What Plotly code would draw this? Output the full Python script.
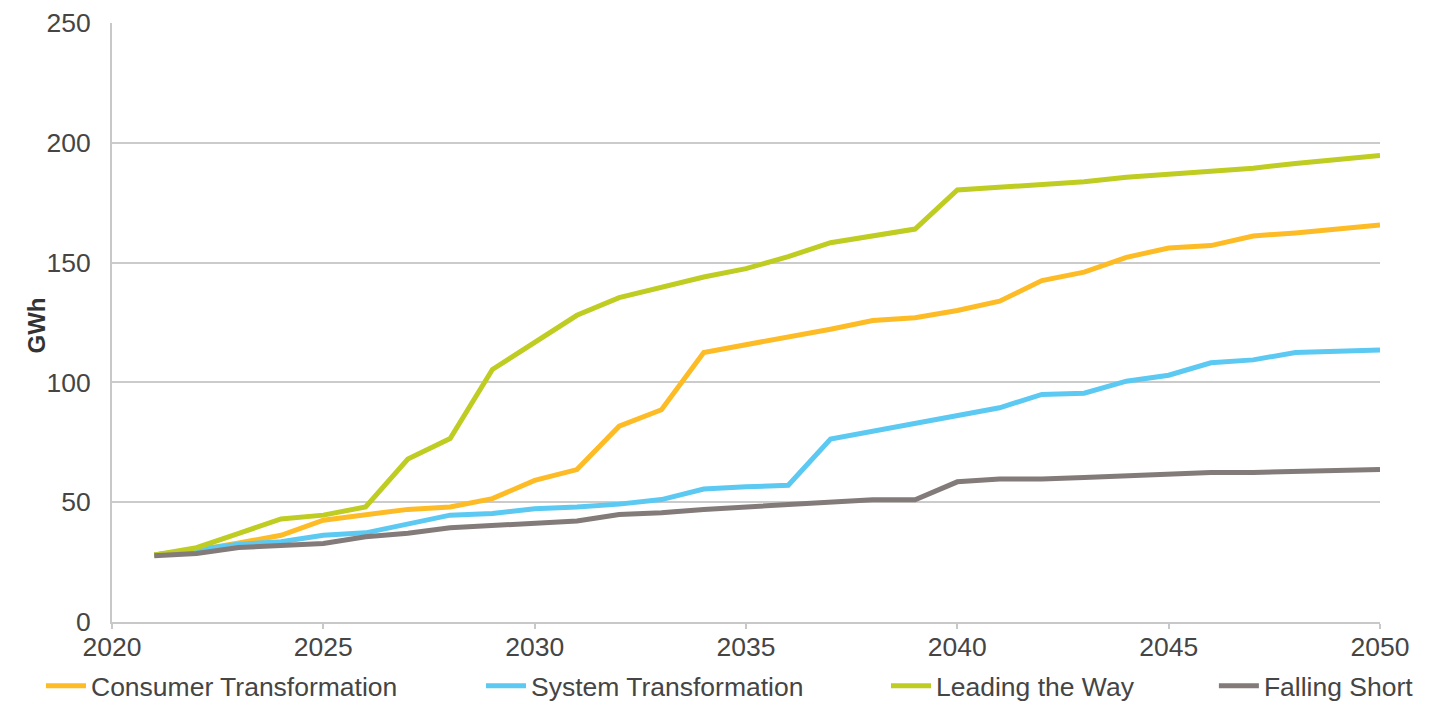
import plotly.graph_objects as go

years = list(range(2021, 2051))

consumer_transformation = [28, 30, 33, 36.2, 42.5, 44.6, 47, 48, 51.5, 59.1,
                           63.6, 81.7, 88.6, 112.5, 115.7, 118.6, 122.2, 125.8, 127, 130,
                           133.9, 142.5, 146, 152.2, 156.1, 157.1, 161.1, 162.4, 164, 165.7]
system_transformation = [28, 30, 32.5, 33.5, 36.2, 37.2, 41.1, 44.6, 45.3, 47.3,
                         48, 49.2, 51.1, 55.5, 56.4, 57.1, 76.4, 79.7, 82.8, 85.8,
                         89.4, 95, 95.5, 100.5, 103, 108.2, 109.4, 112.5, 113, 113.5]
leading_the_way = [28, 31, 37, 43, 44.6, 48, 68, 76.6, 105.4, 117,
                   128, 135.4, 139.6, 144, 147.5, 152.5, 158.3, 161, 164, 180.3,
                   181.4, 182.8, 183.75, 185.6, 186.7, 188.3, 189.4, 191.4, 193, 194.7]
falling_short = [27.6, 28.6, 31.1, 31.8, 32.8, 35.6, 37, 39.3, 40.4, 41.4,
                 42.2, 44.9, 45.6, 47, 48, 49.2, 50.3, 51, 51, 58.5,
                 59.7, 59.7, 60.3, 61.1, 61.7, 62.4, 62.4, 62.9, 63.3, 63.6]

series_names = ["Consumer Transformation", "System Transformation", "Leading the Way", "Falling Short"]
series_values = [consumer_transformation, system_transformation, leading_the_way, falling_short]
colors = ["#FDBC26", "#5BC9F2", "#BFCC22", "#827B7A"]
legend_ids = ["legend", "legend2", "legend3", "legend4"]
legend_x = [-0.056, 0.291, 0.6104, 0.869]

FONT = "Liberation Sans, Arial, Helvetica, sans-serif"
TEXT_COLOR = "#454545"
FS = 26.5

fig = go.Figure()
for name, vals, col, lg in zip(series_names, series_values, colors, legend_ids):
    fig.add_trace(go.Scatter(
        x=years, y=vals, name=name, mode="lines",
        line=dict(color=col, width=5),
        legend=lg,
    ))

legend_common = dict(
    orientation="h", yanchor="middle", y=-0.107, xanchor="left",
    font=dict(family=FONT, size=FS, color=TEXT_COLOR),
    bgcolor="rgba(0,0,0,0)", itemwidth=40, tracegroupgap=0,
)

fig.update_layout(
    width=1439, height=698,
    margin=dict(l=104, r=67, t=15, b=84, autoexpand=False),
    paper_bgcolor="white", plot_bgcolor="white",
    font=dict(family=FONT, size=FS, color=TEXT_COLOR),
    showlegend=True,
    xaxis=dict(
        range=[2020, 2050], tickmode="linear", tick0=2020, dtick=5,
        showgrid=False, showline=True, linecolor="#C8C8C8", linewidth=2,
        ticks="outside", ticklen=5, tickcolor="#C8C8C8", tickwidth=2,
        ticklabelstandoff=-5,
        tickfont=dict(family=FONT, size=FS, color=TEXT_COLOR),
        zeroline=False, automargin=False,
    ),
    yaxis=dict(
        range=[0, 250], tickmode="linear", tick0=0, dtick=50,
        showgrid=True, gridcolor="#CBCBCB", gridwidth=1.5,
        showline=True, linecolor="#C8C8C8", linewidth=2,
        ticks="", ticklabelstandoff=14,
        tickfont=dict(family=FONT, size=FS, color=TEXT_COLOR),
        zeroline=False, automargin=False,
    ),
    annotations=[dict(
        text="<b>GWh</b>", textangle=-90, showarrow=False,
        xref="paper", yref="paper", x=0, y=0.5, xanchor="center", yanchor="middle",
        xshift=-76, yshift=-3,
        font=dict(family=FONT, size=24, color="#333333"),
    )],
)
for lg, lx in zip(legend_ids, legend_x):
    fig.update_layout({lg: dict(legend_common, x=lx)})

fig.write_html("out.html")
